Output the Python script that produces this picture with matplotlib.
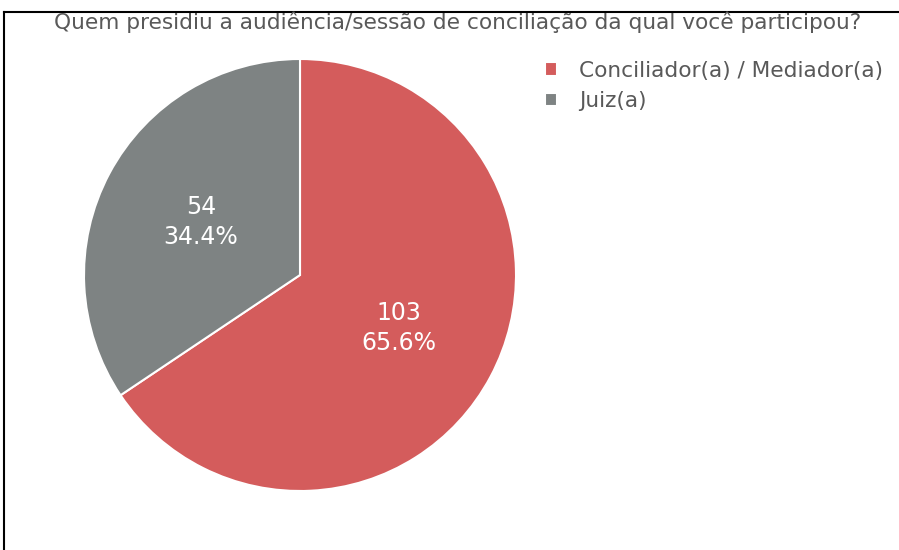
import matplotlib
matplotlib.use("Agg")
import matplotlib.pyplot as plt
from matplotlib.lines import Line2D

plt.rcParams['font.family'] = ['DejaVu Sans']

categories = ['Conciliador(a) / Mediador(a)', 'Juiz(a)']
counts = [103, 54]
colors = ['#d45c5c', '#7e8383']
title = 'Quem presidiu a audiência/sessão de conciliação da qual você participou?'

W, H = 899, 550
fig = plt.figure(figsize=(W / 100, H / 100), dpi=100)

# pie axes: center (300, 275) px, radius ~215 px
r = 216
ax = fig.add_axes([(300 - r) / W, (H - 275 - r) / H, 2 * r / W, 2 * r / H])
total = sum(counts)
wedges, texts = ax.pie(counts, colors=colors, startangle=90, counterclock=False,
                       wedgeprops=dict(edgecolor='white', linewidth=1.5),
                       labels=[f'{c}\n{c / total * 100:.1f}%' for c in counts],
                       labeldistance=0.52,
                       textprops=dict(color='white', fontsize=17, ha='center',
                                      va='center', linespacing=1.3))
ax.set_xlim(-1, 1)
ax.set_ylim(-1, 1)
ax.set_aspect('equal')

fig.text(458 / W, 1 - 22 / H, title, ha='center', va='center',
         fontsize=15.6, color='#595959')

fig.legend(wedges, categories, loc='upper left',
           bbox_to_anchor=(536 / W, 1 - 52 / H), frameon=False,
           fontsize=15.6, labelcolor='#595959',
           handlelength=0.55, handleheight=0.55, handletextpad=1.05,
           labelspacing=0.5, borderaxespad=0)

# frame lines (left and top)
fig.add_artist(Line2D([4 / W, 4 / W], [0, 1 - 12 / H], color='black', lw=1.5,
                      transform=fig.transFigure))
fig.add_artist(Line2D([4 / W, 1], [1 - 12 / H, 1 - 12 / H], color='black', lw=1.5,
                      transform=fig.transFigure))

fig.savefig('out.png', dpi=100)
